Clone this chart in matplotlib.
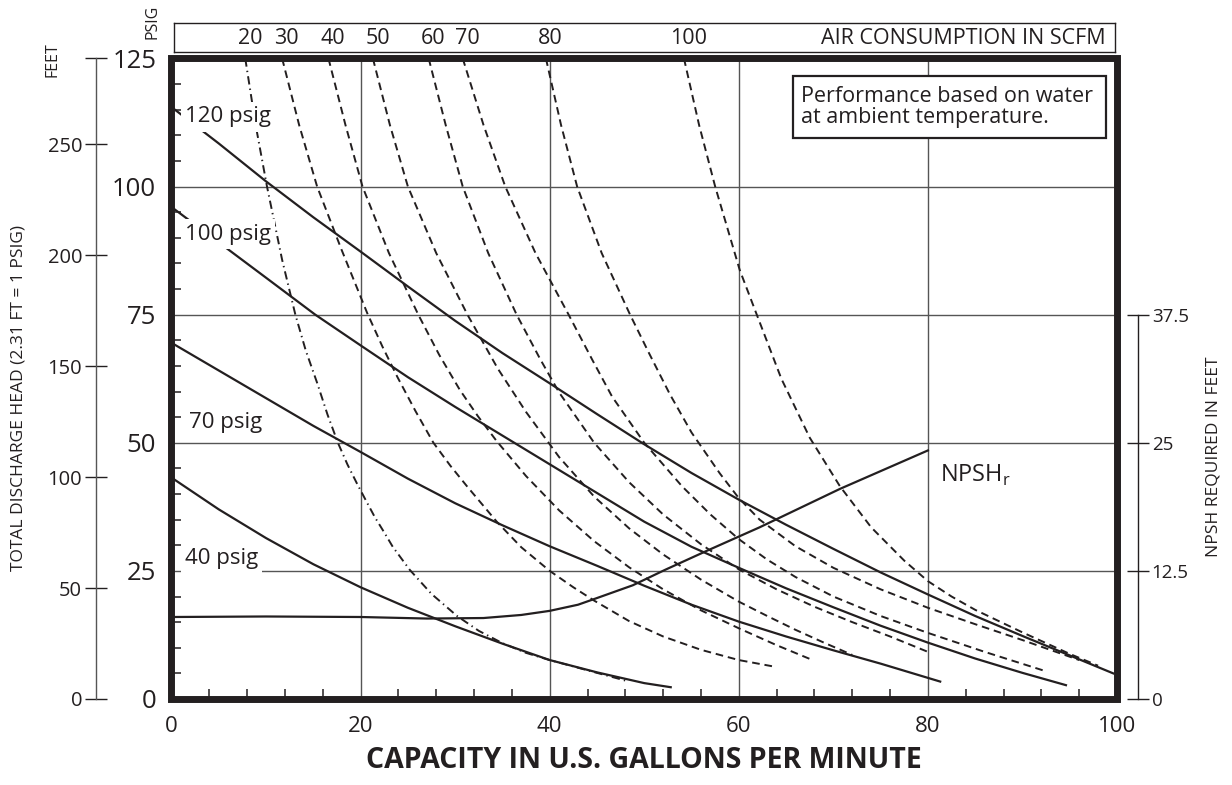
import matplotlib
matplotlib.use("Agg")
import matplotlib.pyplot as plt
from matplotlib.patches import Rectangle
from matplotlib.ticker import MultipleLocator

plt.rcParams['font.family'] = ['Open Sans', 'DejaVu Sans']
plt.rcParams['mathtext.fontset'] = 'custom'
plt.rcParams['mathtext.rm'] = 'Open Sans'
plt.rcParams['lines.scale_dashes'] = False

INK = '#231f20'

# performance curves: discharge pressure (psig) vs capacity (gpm) at given air inlet pressure
flow_120 = [0, 5, 10, 15, 20, 25, 30, 35, 40, 45, 50, 55, 60, 65, 70, 75, 80, 85, 90, 95, 99.6]
head_120 = [115.5, 108.4, 101, 94, 87.3, 80.5, 73.8, 67.5, 61.6, 55.6, 49.7, 44.1, 38.9, 34,
            29.3, 24.7, 20.4, 16.2, 12.3, 8.5, 5]
flow_100 = [0, 5, 10, 15.2, 20, 25, 30, 35, 40, 45, 50, 55, 60, 65, 70, 75, 80, 85, 90, 94.6]
head_100 = [96, 89.1, 82.2, 75, 69, 62.8, 57, 51.4, 45.8, 40.2, 34.6, 29.7, 25.6, 21.6, 17.9,
            14.3, 11, 7.9, 5.1, 2.7]
flow_70 = [0, 5, 10, 15, 20, 25, 30, 35, 40, 45, 50, 55, 60, 65, 70, 75, 81.3]
head_70 = [69.5, 64.1, 58.7, 53.3, 48.2, 43, 38.2, 33.9, 29.8, 26, 22.1, 18.4, 15.1, 12.2, 9.5,
           6.9, 3.4]
flow_40 = [0, 5, 10, 15, 20, 25, 30, 35, 40, 45, 50, 52.8]
head_40 = [43.2, 37, 31.4, 26.3, 21.8, 17.8, 14.2, 10.8, 7.6, 5.2, 3.1, 2.3]
psig_labels = ['120 psig', '100 psig', '70 psig', '40 psig']

# NPSH required (feet)
npsh_flow = [0, 10, 20, 27, 33, 37, 40, 43, 45, 48.8, 52.2, 56.6, 62.2, 70.7, 80]
npsh_ft = [8.0, 8.05, 8.0, 7.85, 7.9, 8.2, 8.6, 9.2, 9.85, 11.1, 12.6, 14.45, 16.75, 20.5, 24.25]

# air consumption curves (SCFM)
scfm_levels = [20, 30, 40, 50, 60, 70, 80, 100]
scfm20_flow = [7.8, 8.9, 10.1, 11.7, 13.1, 14.2, 15.4, 16.5, 17.6, 18.6, 19.6, 20.6, 21.5, 22.5,
               23.4, 25.2, 27.5, 30.2, 32.5, 35, 37.5, 40, 44, 48]
scfm20_head = [125, 112, 100, 85.7, 75, 68, 61.7, 55.5, 50, 45.8, 42.1, 38.6, 35.5, 32.5,
               29.7, 25.2, 20.5, 16.2, 13.3, 10.9, 9.0, 7.6, 5.6, 3.6]
scfm30_flow = [11.7, 13.5, 15.4, 18, 20.7, 22.3, 23.9, 25.8, 27.7, 29.5, 31.3, 34.4, 37, 40,
               42.5, 44.7, 48.4, 52, 56, 60, 63.8]
scfm30_head = [125, 112, 100, 87.6, 75.3, 68.8, 62.8, 56.2, 50, 45.5, 41.4, 34.6, 29.6, 25,
               21.8, 19.2, 15.2, 12.2, 9.6, 7.6, 6.3]
scfm40_flow = [16.6, 18.4, 20.2, 23, 26.1, 28.3, 30.5, 32.4, 34.4, 37.5, 41, 44.7, 48.4, 52, 56,
               60, 64, 67.8]
scfm40_head = [125, 112, 100, 87, 75, 67.2, 60.3, 55.2, 50.3, 43.5, 36.8, 30.8, 25.7, 21.4,
               17.3, 13.8, 10.5, 7.6]
scfm50_flow = [21.3, 23.1, 25, 28, 31.3, 34.5, 37.5, 41, 44.7, 48.4, 52, 56, 60, 63, 66, 69, 72]
scfm50_head = [125, 112, 100, 87, 75, 64.5, 56, 47.2, 39.5, 33.3, 28.2, 23.3, 19, 16.2, 13.5,
               11, 8.6]
scfm60_flow = [27.2, 29, 30.8, 33.5, 36.5, 39, 41, 44.7, 48.4, 52, 56, 60, 64, 68, 72, 76, 80]
scfm60_head = [125, 112, 100, 87, 75, 66.3, 59.8, 50, 42.3, 36, 30.2, 25.3, 21.4, 18, 15, 12.2,
               9.2]
scfm70_flow = [30.8, 33, 35.3, 38.5, 42, 44.5, 46.6, 50, 54, 57, 60, 63, 66, 70, 75, 80, 86, 92.5]
scfm70_head = [125, 112, 100, 87, 75, 66.2, 59, 50, 41.5, 36, 31.2, 27.2, 23.8, 20, 16.2, 12.9,
               9.2, 5.4]
scfm80_flow = [39.6, 41.2, 42.9, 45.5, 48.5, 50.5, 52.7, 55, 58, 60, 62.2, 66, 70, 75, 80, 85,
               90, 96]
scfm80_head = [125, 112, 100, 87, 75, 67.5, 59.5, 52, 44, 39.2, 35, 29.8, 25.6, 21.4, 17.8, 14.6,
               11.5, 7.6]
scfm100_flow = [54.2, 55.8, 57.5, 60.1, 61.9, 64.5, 67.5, 70.7, 74, 77.5, 80, 82.5, 85, 90, 95, 98]
scfm100_head = [125, 112, 100, 83.7, 75, 62.5, 51, 41.5, 33.5, 27, 23, 20, 17.4, 13, 8.8, 6.5]

FT_PER_PSI = 2.31

fig = plt.figure(figsize=(12.32, 7.85), dpi=100)
W, H = 1232.0, 785.0
ax_l, ax_r, ax_b, ax_t = 171.5, 1117.0, 699.0, 58.4
ax = fig.add_axes([ax_l / W, 1 - ax_b / H, (ax_r - ax_l) / W, (ax_b - ax_t) / H])
ax.set_xlim(0, 100)
ax.set_ylim(0, 125)
for s in ax.spines.values():
    s.set_visible(False)

ax.set_xticks([0, 20, 40, 60, 80, 100])
ax.set_yticks([0, 25, 50, 75, 100, 125])
ax.xaxis.set_minor_locator(MultipleLocator(4))
ax.yaxis.set_minor_locator(MultipleLocator(5))
ax.tick_params(which='major', length=0, colors=INK)
ax.tick_params(axis='x', which='major', labelsize=16, pad=12)
ax.tick_params(axis='y', which='major', labelsize=18.5, pad=11)
ax.tick_params(which='minor', direction='in', length=7, width=1.1, color=INK)
ax.set_axisbelow(True)
ax.grid(which='major', color='#555555', lw=1.0)
ax.set_xlabel('CAPACITY IN U.S. GALLONS PER MINUTE', fontsize=20.5, fontweight='bold',
              color=INK, labelpad=7)

# thick frame
ax.add_patch(Rectangle((0, 0), 1, 1, transform=ax.transAxes, fill=False, lw=5,
                       ec=INK, clip_on=False, zorder=10, joinstyle='miter'))

# air consumption (dashed)
scfm_curves = [(scfm20_flow, scfm20_head), (scfm30_flow, scfm30_head),
               (scfm40_flow, scfm40_head), (scfm50_flow, scfm50_head),
               (scfm60_flow, scfm60_head), (scfm70_flow, scfm70_head),
               (scfm80_flow, scfm80_head), (scfm100_flow, scfm100_head)]
for i, (fx, hy) in enumerate(scfm_curves):
    dash = (6, 3, 1, 3) if i == 0 else (5.5, 3.5)
    ax.plot(fx, hy, color=INK, lw=1.4, dashes=dash, zorder=2)

# performance curves (solid)
perf = [(flow_120, head_120), (flow_100, head_100), (flow_70, head_70), (flow_40, head_40)]
for fx, hy in perf:
    ax.plot(fx, hy, color=INK, lw=1.6, zorder=2.5)

# psig labels with white knockouts
label_pos = [(1.4, 113.6), (1.4, 90.7), (1.8, 53.9), (1.4, 27.5)]
for txt, (lx, ly) in zip(psig_labels, label_pos):
    ax.text(lx, ly, txt, fontsize=16, color=INK, ha='left', va='center', zorder=3,
            bbox=dict(fc='white', ec='none', pad=3))

# note box
ax.add_patch(Rectangle((65.7, 109.5), 33.1, 12.1, fc='white', ec=INK, lw=1.6, zorder=5))
ax.text(66.6, 115.5, 'Performance based on water\nat ambient temperature.', fontsize=15.5,
        color=INK, ha='left', va='center', linespacing=1.0, zorder=6)

ax.text(81.3, 43.7, 'NPSH$_\\mathrm{r}$', fontsize=17, color=INK, ha='left', va='center')

# NPSH axis (right, offset)
ax2 = ax.twinx()
ax2.set_ylim(0, 62.5)
ax2.plot(npsh_flow, npsh_ft, color=INK, lw=1.6)
for k in ['top', 'left', 'bottom']:
    ax2.spines[k].set_visible(False)
ax2.spines['right'].set_position(('outward', 15))
ax2.spines['right'].set_bounds(0, 37.5)
ax2.spines['right'].set_linewidth(1.0)
ax2.spines['right'].set_color(INK)
ax2.set_yticks([0, 12.5, 25, 37.5])
ax2.set_yticklabels(['0', '12.5', '25', '37.5'])
ax2.tick_params(axis='y', direction='inout', length=16, width=1.0, labelsize=13.5, pad=2,
                colors=INK)

# feet axis (left, offset)
ax3 = ax.twinx()
ax3.set_ylim(0, 125 * FT_PER_PSI)
for k in ['top', 'right', 'bottom']:
    ax3.spines[k].set_visible(False)
ax3.spines['left'].set_visible(True)
ax3.spines['left'].set_position(('outward', 54.4))
ax3.spines['left'].set_bounds(0, 125 * FT_PER_PSI)
ax3.spines['left'].set_linewidth(1.0)
ax3.spines['left'].set_color('#555555')
ax3.yaxis.set_ticks_position('left')
ax3.set_yticks([0, 50, 100, 150, 200, 250, 125 * FT_PER_PSI])
ax3.set_yticklabels(['0', '50', '100', '150', '200', '250', ''])
ax3.tick_params(axis='y', direction='inout', length=16, width=1.0, labelsize=14.5, pad=2,
                colors=INK)

# air consumption header
hx_l, hx_r = 174.0, 1115.0
hx = fig.add_axes([hx_l / W, 1 - 52 / H, (hx_r - hx_l) / W, 29 / H])
ppu = (ax_r - ax_l) / 100.0
hx.set_xlim((hx_l - ax_l) / ppu, (hx_r - ax_l) / ppu)
hx.set_ylim(0, 1)
hx.set_xticks([])
hx.set_yticks([])
for s in hx.spines.values():
    s.set_linewidth(1.0)
    s.set_color(INK)
for lvl, (fx, hy) in zip(scfm_levels, scfm_curves):
    hx.text(fx[0] + 0.5, 0.12, str(lvl), fontsize=15.5, color=INK, ha='center', va='bottom')
hx.text(0.99, 0.12, 'AIR CONSUMPTION IN SCFM', transform=hx.transAxes, fontsize=15.5,
        color=INK, ha='right', va='bottom')

fig.text(152 / W, 1 - 22 / H, 'PSIG', rotation=90, fontsize=11.5, color=INK, ha='center', va='center')
fig.text(53 / W, 1 - 60 / H, 'FEET', rotation=90, fontsize=11.5, color=INK, ha='center', va='center')
fig.text(19 / W, 1 - 398 / H, 'TOTAL DISCHARGE HEAD (2.31 FT = 1 PSIG)', rotation=90,
         fontsize=12.5, color=INK, ha='center', va='center')
fig.text(1213 / W, 1 - 457 / H, 'NPSH REQUIRED IN FEET', rotation=90, fontsize=12.5,
         color=INK, ha='center', va='center')

fig.savefig('out.png', dpi=100)
